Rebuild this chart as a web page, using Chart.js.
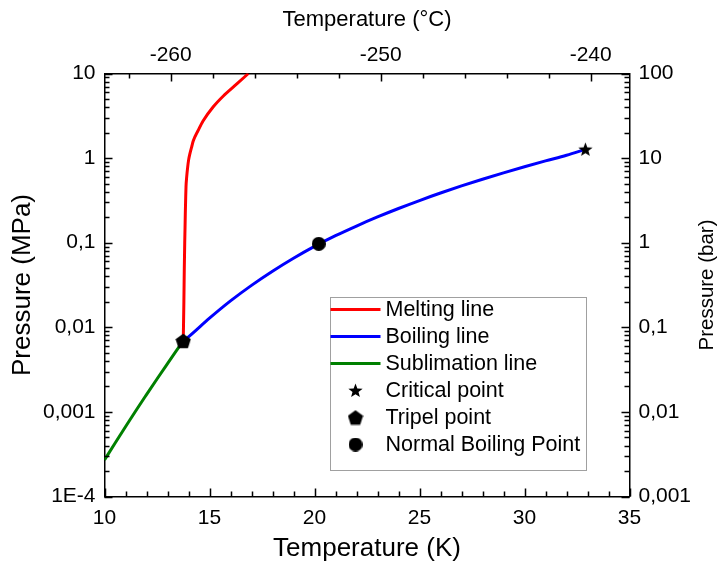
<!DOCTYPE html>
<html>
<head>
<meta charset="utf-8">
<script src="https://cdn.jsdelivr.net/npm/chart.js@4/dist/chart.umd.min.js"></script>
<style>
html,body{margin:0;padding:0;background:#fff;}
#c{display:block;}
</style>
</head>
<body>
<canvas id="c" width="720" height="566"></canvas>
<script>
// ---------- data ----------
const meltingT = [13.75, 13.78, 13.80, 13.82, 13.835, 13.848, 13.867, 13.881, 13.914, 13.962, 14.01, 14.071, 14.152, 14.229, 14.467, 14.7, 15.18, 15.66, 16.3, 16.85];
const meltingP = [0.0069, 0.02, 0.05, 0.1, 0.15, 0.221, 0.348, 0.457, 0.601, 0.789, 0.966, 1.14, 1.36, 1.6, 2.14, 2.76, 4.04, 5.42, 7.52, 10.0];

const boilingT = [13.75, 14, 15, 16, 17, 18, 19, 20, 21, 22, 23, 24, 25, 26, 27, 28, 29, 30, 31, 32, 32.9];
const boilingP = [0.0069, 0.0077, 0.0128, 0.0205, 0.0313, 0.046, 0.0655, 0.0905, 0.121, 0.1575, 0.2015, 0.2537, 0.315, 0.3864, 0.4686, 0.5627, 0.6697, 0.7907, 0.927, 1.08, 1.27];

const sublimationT = [10, 10.5, 11, 11.5, 12, 12.5, 13, 13.4, 13.75];
const sublimationP = [0.00027, 0.000426, 0.000667, 0.00104, 0.0016, 0.00245, 0.00372, 0.00518, 0.0069];

const criticalPoint = {T: 32.9, P: 1.27};
const triplePoint = {T: 13.75, P: 0.0069};
const normalBoilingPoint = {T: 20.2, P: 0.097};

const seriesLabels = ['Melting line', 'Boiling line', 'Sublimation line', 'Critical point', 'Tripel point', 'Normal Boiling Point'];

const bottomTickValues = [10, 15, 20, 25, 30, 35];
const topTickValues = [-260, -250, -240];
const leftTickValues = [1e-4, 1e-3, 1e-2, 1e-1, 1, 10];
const leftTickLabels = ['1E-4', '0,001', '0,01', '0,1', '1', '10'];
const rightTickValues = [1e-3, 1e-2, 1e-1, 1, 10, 100];
const rightTickLabels = ['0,001', '0,01', '0,1', '1', '10', '100'];

const titleBottom = 'Temperature (K)';
const titleTop = 'Temperature (°C)';
const titleLeft = 'Pressure (MPa)';
const titleRight = 'Pressure (bar)';

// ---------- helpers ----------
const FONT = "'Liberation Sans', Arial, sans-serif";
Chart.defaults.font.family = FONT;
Chart.defaults.color = '#000';

function toPoints(xs, ys) { return xs.map((x, i) => ({x: x, y: ys[i]})); }

function makeMarker(kind, size) {
  const c = document.createElement('canvas');
  c.width = size; c.height = size;
  const g = c.getContext('2d');
  g.fillStyle = '#000';
  const r = size / 2;
  g.beginPath();
  if (kind === 'star') {
    for (let i = 0; i < 10; i++) {
      const a = -Math.PI / 2 + i * Math.PI / 5;
      const rr = i % 2 === 0 ? r : r * 0.42;
      const px = r + rr * Math.cos(a), py = r + 0.5 + rr * Math.sin(a);
      if (i === 0) g.moveTo(px, py); else g.lineTo(px, py);
    }
  } else if (kind === 'pentagon') {
    for (let i = 0; i < 5; i++) {
      const a = -Math.PI / 2 + i * 2 * Math.PI / 5;
      const px = r + r * Math.cos(a), py = r + 0.8 + r * Math.sin(a);
      if (i === 0) g.moveTo(px, py); else g.lineTo(px, py);
    }
  } else {
    g.arc(r, r, r, 0, Math.PI * 2);
  }
  g.closePath();
  g.fill();
  return c;
}
const starImg = makeMarker('star', 15);
const pentImg = makeMarker('pentagon', 16);
const circImg = makeMarker('circle', 14);

function labelFor(values, labels) {
  return function (v) {
    for (let i = 0; i < values.length; i++) {
      if (Math.abs(Math.log10(values[i]) - Math.log10(v)) < 1e-6) return labels[i];
    }
    return '';
  };
}

const lineCommon = {pointRadius: 0, borderWidth: 3, fill: false, cubicInterpolationMode: 'monotone', borderJoinStyle: 'round', order: 1, xAxisID: 'x', yAxisID: 'y'};
const markCommon = {showLine: false, pointRadius: 7, pointHoverRadius: 7, order: 0, xAxisID: 'x', yAxisID: 'y'};

const datasets = [
  Object.assign({label: seriesLabels[0], data: toPoints(meltingT, meltingP), borderColor: '#ff0000'}, lineCommon),
  Object.assign({label: seriesLabels[1], data: toPoints(boilingT, boilingP), borderColor: '#0000ff'}, lineCommon),
  Object.assign({label: seriesLabels[2], data: toPoints(sublimationT, sublimationP), borderColor: '#008000'}, lineCommon),
  Object.assign({label: seriesLabels[3], data: [{x: criticalPoint.T, y: criticalPoint.P}], pointStyle: starImg, borderColor: '#000', backgroundColor: '#000'}, markCommon),
  Object.assign({label: seriesLabels[4], data: [{x: triplePoint.T, y: triplePoint.P}], pointStyle: pentImg, borderColor: '#000', backgroundColor: '#000'}, markCommon),
  Object.assign({label: seriesLabels[5], data: [{x: normalBoilingPoint.T, y: normalBoilingPoint.P}], pointStyle: circImg, borderColor: '#000', backgroundColor: '#000'}, markCommon)
];

// ---------- plugin: inward ticks, legend, right title ----------
const framePlugin = {
  id: 'frame',
  afterDatasetsDraw(chart) {
    const ctx = chart.ctx, ca = chart.chartArea, s = chart.scales;
    const MAJ = 8, MIN = 5;
    ctx.save();
    ctx.strokeStyle = '#000';
    ctx.lineWidth = 1.5;
    ctx.beginPath();
    for (let k = Math.ceil(s.x.min); k <= s.x.max + 1e-9; k++) {
      const px = Math.round(s.x.getPixelForValue(k)) + 0.5;
      const L = (k % 5 === 0) ? MAJ : MIN;
      ctx.moveTo(px, ca.bottom); ctx.lineTo(px, ca.bottom - L);
    }
    for (let c = Math.ceil(s.x2.min / 2) * 2; c <= s.x2.max + 1e-9; c += 2) {
      const px = Math.round(s.x2.getPixelForValue(c)) + 0.5;
      const L = (c % 10 === 0) ? MAJ : MIN;
      ctx.moveTo(px, ca.top); ctx.lineTo(px, ca.top + L);
    }
    for (let d = -4; d <= 1; d++) {
      for (let m = 1; m <= 9; m++) {
        const v = m * Math.pow(10, d);
        if (v < s.y.min * 0.999 || v > s.y.max * 1.001) continue;
        const py = Math.round(s.y.getPixelForValue(v)) + 0.5;
        const L = m === 1 ? MAJ : MIN;
        ctx.moveTo(ca.left, py); ctx.lineTo(ca.left + L, py);
      }
    }
    for (let d = -3; d <= 2; d++) {
      for (let m = 1; m <= 9; m++) {
        const v = m * Math.pow(10, d);
        if (v < s.y2.min * 0.999 || v > s.y2.max * 1.001) continue;
        const py = Math.round(s.y2.getPixelForValue(v)) + 0.5;
        const L = m === 1 ? MAJ : MIN;
        ctx.moveTo(ca.right, py); ctx.lineTo(ca.right - L, py);
      }
    }
    ctx.stroke();
    ctx.restore();
  },
  afterDraw(chart) {
    const ctx = chart.ctx, ca = chart.chartArea;
    ctx.save();
    ctx.fillStyle = '#000';
    ctx.font = "20.5px " + FONT;
    ctx.textAlign = 'center';
    ctx.textBaseline = 'middle';
    ctx.translate(707, (ca.top + ca.bottom) / 2);
    ctx.rotate(-Math.PI / 2);
    ctx.fillText(titleRight, 0, 0);
    ctx.restore();

    const bx = ca.left + 225, by = ca.top + 223.5, bw = 256, bh = 173;
    ctx.save();
    ctx.fillStyle = '#fff';
    ctx.fillRect(bx, by, bw, bh);
    ctx.strokeStyle = '#a0a0a0';
    ctx.lineWidth = 1;
    ctx.strokeRect(Math.round(bx) + 0.5, Math.round(by) + 0.5, bw, bh);
    ctx.font = "21.5px " + FONT;
    ctx.textAlign = 'left';
    ctx.textBaseline = 'middle';
    chart.data.datasets.forEach((ds, i) => {
      const cy = by + 12.5 + i * 27;
      if (ds.showLine === false) {
        const img = ds.pointStyle;
        ctx.drawImage(img, bx + 26 - img.width / 2, cy - img.height / 2);
      } else {
        ctx.strokeStyle = ds.borderColor;
        ctx.lineWidth = 3;
        ctx.beginPath();
        ctx.moveTo(bx + 1, cy); ctx.lineTo(bx + 51, cy);
        ctx.stroke();
      }
      ctx.fillStyle = '#000';
      ctx.fillText(ds.label, bx + 56, cy + 1);
    });
    ctx.restore();
  }
};

const borderOpt = {display: true, color: '#000', width: 1.5};

new Chart(document.getElementById('c'), {
  type: 'line',
  data: {datasets: datasets},
  plugins: [framePlugin],
  options: {
    responsive: false,
    animation: false,
    devicePixelRatio: 1,
    layout: {padding: 0},
    plugins: {legend: {display: false}, tooltip: {enabled: false}},
    scales: {
      x: {
        type: 'linear', position: 'bottom', min: 10, max: 35,
        grid: {display: false, drawTicks: false},
        border: borderOpt,
        afterBuildTicks: (sc) => { sc.ticks = bottomTickValues.map(v => ({value: v})); },
        ticks: {font: {size: 21}, color: '#000', padding: 9, autoSkip: false, maxRotation: 0},
        title: {display: true, text: titleBottom, font: {size: 26, lineHeight: 1}, color: '#000', padding: {top: 0, bottom: 4}},
        afterFit: (sc) => { sc.height = 69.5; }
      },
      x2: {
        type: 'linear', position: 'top', min: 10 - 273.15, max: 35 - 273.15,
        grid: {display: false, drawTicks: false},
        border: borderOpt,
        afterBuildTicks: (sc) => { sc.ticks = topTickValues.map(v => ({value: v})); },
        ticks: {font: {size: 21}, color: '#000', padding: 6, autoSkip: false, maxRotation: 0},
        title: {display: true, text: titleTop, font: {size: 22, lineHeight: 1}, color: '#000', padding: {top: 9, bottom: 0}},
        afterFit: (sc) => { sc.height = 73.5; }
      },
      y: {
        type: 'logarithmic', position: 'left', min: 1e-4, max: 10,
        grid: {display: false, drawTicks: false},
        border: borderOpt,
        afterBuildTicks: (sc) => { sc.ticks = leftTickValues.map(v => ({value: v})); },
        ticks: {font: {size: 21}, color: '#000', padding: 9, autoSkip: false, callback: labelFor(leftTickValues, leftTickLabels)},
        title: {display: true, text: titleLeft, font: {size: 26, lineHeight: 1}, color: '#000', padding: {top: 10, bottom: 0}},
        afterFit: (sc) => { sc.width = 104.5; }
      },
      y2: {
        type: 'logarithmic', position: 'right', min: 1e-3, max: 100,
        grid: {display: false, drawTicks: false},
        border: borderOpt,
        afterBuildTicks: (sc) => { sc.ticks = rightTickValues.map(v => ({value: v})); },
        ticks: {font: {size: 21}, color: '#000', padding: 9, autoSkip: false, callback: labelFor(rightTickValues, rightTickLabels)},
        title: {display: false},
        afterFit: (sc) => { sc.width = 90.5; }
      }
    }
  }
});
</script>
</body>
</html>
